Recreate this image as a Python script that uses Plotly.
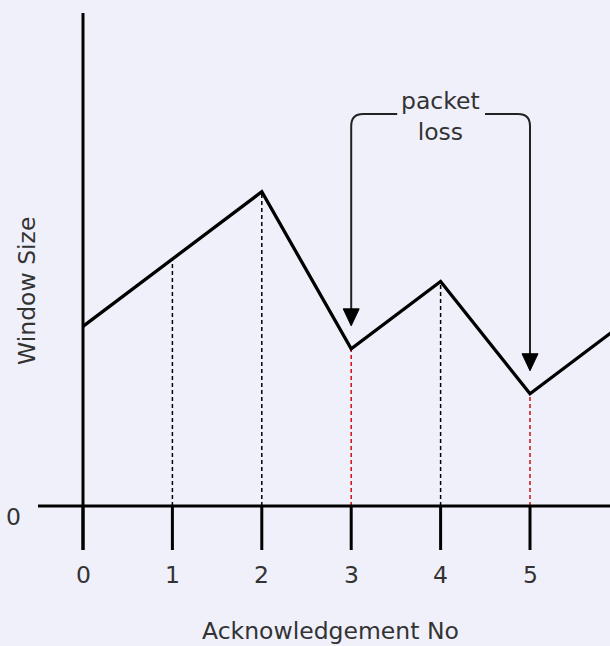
import plotly.graph_objects as go

# ---- data ----
ack_no = [0, 1, 2, 3, 4, 5, 6]
window_size = [8, 11, 14, 7, 10, 5, 8]
tick_labels = ["0", "1", "2", "3", "4", "5"]
loss_points = [3, 5]
x_title = "Acknowledgement No"
y_title = "Window Size"
note_text = "packet<br>loss"

# ---- geometry (pixel calibration of the drawing) ----
W, H = 610, 646
X0PX, XUNIT = 83, 89.4       # pixel of x=0, px per ack step
Y0PX, YUNIT = 506, 22.45     # pixel of window=0, px per window unit
def dx(px): return px / XUNIT
def dy(px): return px / YUNIT

xr = [-X0PX / XUNIT, (W - X0PX) / XUNIT]
yr = [(Y0PX - H) / YUNIT, Y0PX / YUNIT]

BG = "#F0F0FB"
TXT = "#333333"
FONT = "DejaVu Sans, Arial, sans-serif"
FS = 23.5

fig = go.Figure()
fig.add_trace(go.Scatter(x=ack_no, y=window_size, mode="lines",
                         line=dict(color="black", width=3.3), hoverinfo="skip"))

shapes = []
# dashed drop lines
for x, v in zip(ack_no[1:6], window_size[1:6]):
    col = "#CC1111" if x in loss_points else "black"
    shapes.append(dict(type="line", xref="x", yref="y", x0=x, x1=x, y0=0, y1=v,
                       line=dict(color=col, width=1.5, dash="4px,3px"), layer="below"))
# axes
shapes.append(dict(type="line", xref="x", yref="y", x0=0, x1=0, y0=-dy(44), y1=dy(493),
                   line=dict(color="black", width=3)))
shapes.append(dict(type="line", xref="x", yref="y", x0=-dx(45), x1=xr[1] + 0.1, y0=0, y1=0,
                   line=dict(color="black", width=3)))
for t in ack_no[:6]:
    shapes.append(dict(type="line", xref="x", yref="y", x0=t, x1=t, y0=0, y1=-dy(44),
                       line=dict(color="black", width=3)))

# packet-loss bracket with arrows
top = dy(Y0PX - 114)
rx, ry = dx(12), dy(12)
gap_l, gap_r = 3 + dx(46), 5 - dx(45)
tip_gap = dy(23)
head_h, head_w = dy(17), dx(8)
for side, xa, xg in [(-1, loss_points[0], gap_l), (1, loss_points[1], gap_r)]:
    tip = window_size[xa] + tip_gap
    sgn = 1 if side < 0 else -1
    path = (f"M {xg},{top} L {xa + sgn*rx},{top} Q {xa},{top} {xa},{top - ry} "
            f"L {xa},{tip + head_h - 0.1}")
    shapes.append(dict(type="path", xref="x", yref="y", path=path,
                       line=dict(color="#222222", width=2)))
    tri = f"M {xa - head_w},{tip + head_h} L {xa + head_w},{tip + head_h} L {xa},{tip} Z"
    shapes.append(dict(type="path", xref="x", yref="y", path=tri,
                       fillcolor="black", line=dict(color="black", width=1)))

annotations = []
for t, lab in zip(ack_no[:6], tick_labels):
    annotations.append(dict(x=t, y=-dy(575 - Y0PX), xref="x", yref="y", text=lab,
                            showarrow=False, xanchor="center", yanchor="middle",
                            font=dict(family=FONT, size=FS, color=TXT)))
annotations.append(dict(x=-dx(X0PX - 13), y=-dy(11), xref="x", yref="y", text="0",
                        showarrow=False, xanchor="center", yanchor="middle",
                        font=dict(family=FONT, size=FS, color=TXT)))
annotations.append(dict(x=-dx(X0PX - 200), y=-dy(631 - Y0PX), xref="x", yref="y",
                        text=x_title, showarrow=False, xanchor="left", yanchor="middle",
                        font=dict(family=FONT, size=FS, color=TXT)))
annotations.append(dict(x=-dx(X0PX - 27), y=dy(Y0PX - 291), xref="x", yref="y",
                        text=y_title, textangle=-90, showarrow=False,
                        xanchor="center", yanchor="middle",
                        font=dict(family=FONT, size=FS, color=TXT)))
annotations.append(dict(x=4, y=dy(Y0PX - 116), xref="x", yref="y", text=note_text,
                        showarrow=False, xanchor="center", yanchor="middle",
                        font=dict(family=FONT, size=FS, color=TXT)))

fig.update_layout(
    width=W, height=H, margin=dict(l=0, r=0, t=0, b=0),
    paper_bgcolor=BG, plot_bgcolor=BG, showlegend=False,
    xaxis=dict(range=xr, visible=False, fixedrange=True),
    yaxis=dict(range=yr, visible=False, fixedrange=True),
    shapes=shapes, annotations=annotations,
)
fig.write_html("out.html", config={"displayModeBar": False},
               post_script="document.body.style.margin='0';"
                           "document.body.style.overflow='hidden';"
                           "document.body.style.background='" + BG + "';")
